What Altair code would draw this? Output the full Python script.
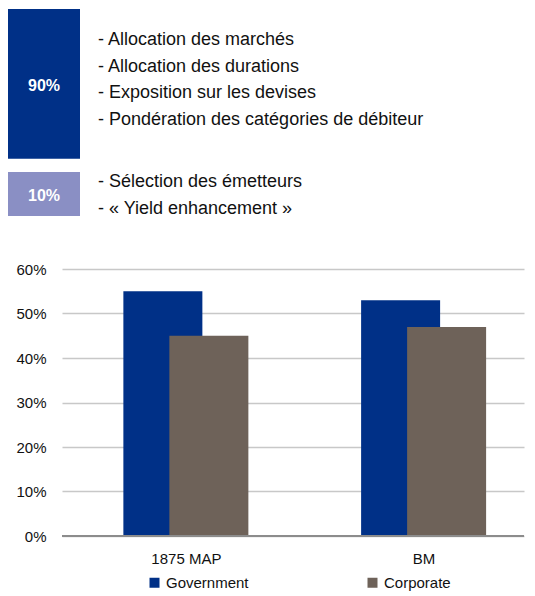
import json
import altair as alt
import pandas as pd

# ---- data ----
categories = ["1875 MAP", "BM"]
government = [0.55, 0.53]
corporate = [0.45, 0.47]
series = ["Government", "Corporate"]

block_labels = ["90%", "10%"]
block_lines = [
    ["- Allocation des marchés", "- Allocation des durations",
     "- Exposition sur les devises", "- Pondération des catégories de débiteur"],
    ["- Sélection des émetteurs", "- « Yield enhancement »"],
]

# ---- styles / layout ----
FONT = "Liberation Sans"
BLUE = "#003087"
TAUPE = "#6E6259"
LILAC = "#8A8FC4"
ROW_PX = 26.5
block_first_row = [0.0, 5.36]
box_extent = [(-1.17, 4.48), (4.98, 6.64)]
TOP_DOMAIN = (-1.21, 6.9)
TOP_H = (TOP_DOMAIN[1] - TOP_DOMAIN[0]) * ROW_PX
W = 462
PH = 267
STEP_PX = 243  # pixel distance between category centres (plot is cropped at the right)

# ---- top panel ----
box_rows = []
line_rows = []
for i, lab in enumerate(block_labels):
    y0, y1 = box_extent[i]
    box_rows.append({"label": lab, "y0": y0, "y1": y1, "mid": (y0 + y1) / 2 + 0.07,
                     "fill": BLUE if i == 0 else LILAC})
    for j, t in enumerate(block_lines[i]):
        line_rows.append({"text": t, "row": block_first_row[i] + j})
boxes = pd.DataFrame(box_rows)
lines = pd.DataFrame(line_rows)

yrow = alt.Scale(domain=list(TOP_DOMAIN), reverse=True, nice=False, zero=False)

box_mark = alt.Chart(boxes).mark_rect().encode(
    x=alt.value(-54), x2=alt.value(18),
    y=alt.Y("y0:Q", scale=yrow, axis=None),
    y2="y1:Q",
    color=alt.Color("fill:N", scale=None),
)
box_text = alt.Chart(boxes).mark_text(
    font=FONT, fontSize=16, fontWeight="bold", color="white", baseline="middle"
).encode(
    x=alt.value(-18),
    y=alt.Y("mid:Q", scale=yrow, axis=None),
    text="label:N",
)
line_text = alt.Chart(lines).mark_text(
    font=FONT, fontSize=18, color="#111111", align="left", baseline="middle"
).encode(
    x=alt.value(36),
    y=alt.Y("row:Q", scale=yrow, axis=None),
    text="text:N",
)
top = alt.layer(box_mark, box_text, line_text).properties(width=W, height=TOP_H)

# ---- bottom panel ----
recs = []
for i, (c, g, k) in enumerate(zip(categories, government, corporate)):
    recs.append({"idx": i, "cat": c, "series": "Government", "value": g})
    recs.append({"idx": i, "cat": c, "series": "Corporate", "value": k})
df = pd.DataFrame(recs)

xscale = alt.Scale(domain=[-0.5, -0.5 + W / STEP_PX], nice=False, zero=False)
yscale = alt.Scale(domain=[0, 0.6], nice=False)
color = alt.Color(
    "series:N",
    scale=alt.Scale(domain=series, range=[BLUE, TAUPE]),
    legend=alt.Legend(
        title=None, orient="none", direction="horizontal",
        legendX=85, legendY=567,
        symbolType="square", symbolSize=100, symbolStrokeWidth=0,
        labelFont=FONT, labelFontSize=15, labelColor="#111111",
        labelOffset=4, columnPadding=116, labelLimit=200,
    ),
)

base = alt.Chart(df).encode(
    x=alt.X("idx:Q", scale=xscale, title=None,
            axis=alt.Axis(values=list(range(len(categories))),
                          labelExpr=f"{json.dumps(categories)}[datum.value]",
                          labelAngle=0, ticks=False, domain=False,
                          labelFont=FONT, labelFontSize=15,
                          labelColor="#111111", labelPadding=15, grid=False)),
    y=alt.Y("value:Q", scale=yscale, title=None,
            axis=alt.Axis(format=".0%", values=[0, 0.1, 0.2, 0.3, 0.4, 0.5, 0.6],
                          ticks=False, domain=False, gridColor="#C8C8C8",
                          gridWidth=1.5, labelFont=FONT, labelFontSize=15,
                          labelColor="#111111", labelPadding=16)),
    color=color,
)
gov = base.transform_filter(alt.datum.series == "Government").mark_bar(size=79, xOffset=-23)
corp = base.transform_filter(alt.datum.series == "Corporate").mark_bar(size=79, xOffset=23)
baseline = alt.Chart(pd.DataFrame({"z": [0]})).mark_rule(
    color="#8C8C8C", strokeWidth=2
).encode(y=alt.datum(0), x=alt.value(0), x2=alt.value(W))
bottom = alt.layer(gov, corp, baseline).properties(width=W, height=PH)

chart = alt.vconcat(top, bottom, spacing=261 - TOP_H, bounds="flush").properties(
    padding=0, background="white"
).configure_view(strokeWidth=0, stroke="transparent")

chart.save("out.html", embed_options={"renderer": "svg", "actions": False})
